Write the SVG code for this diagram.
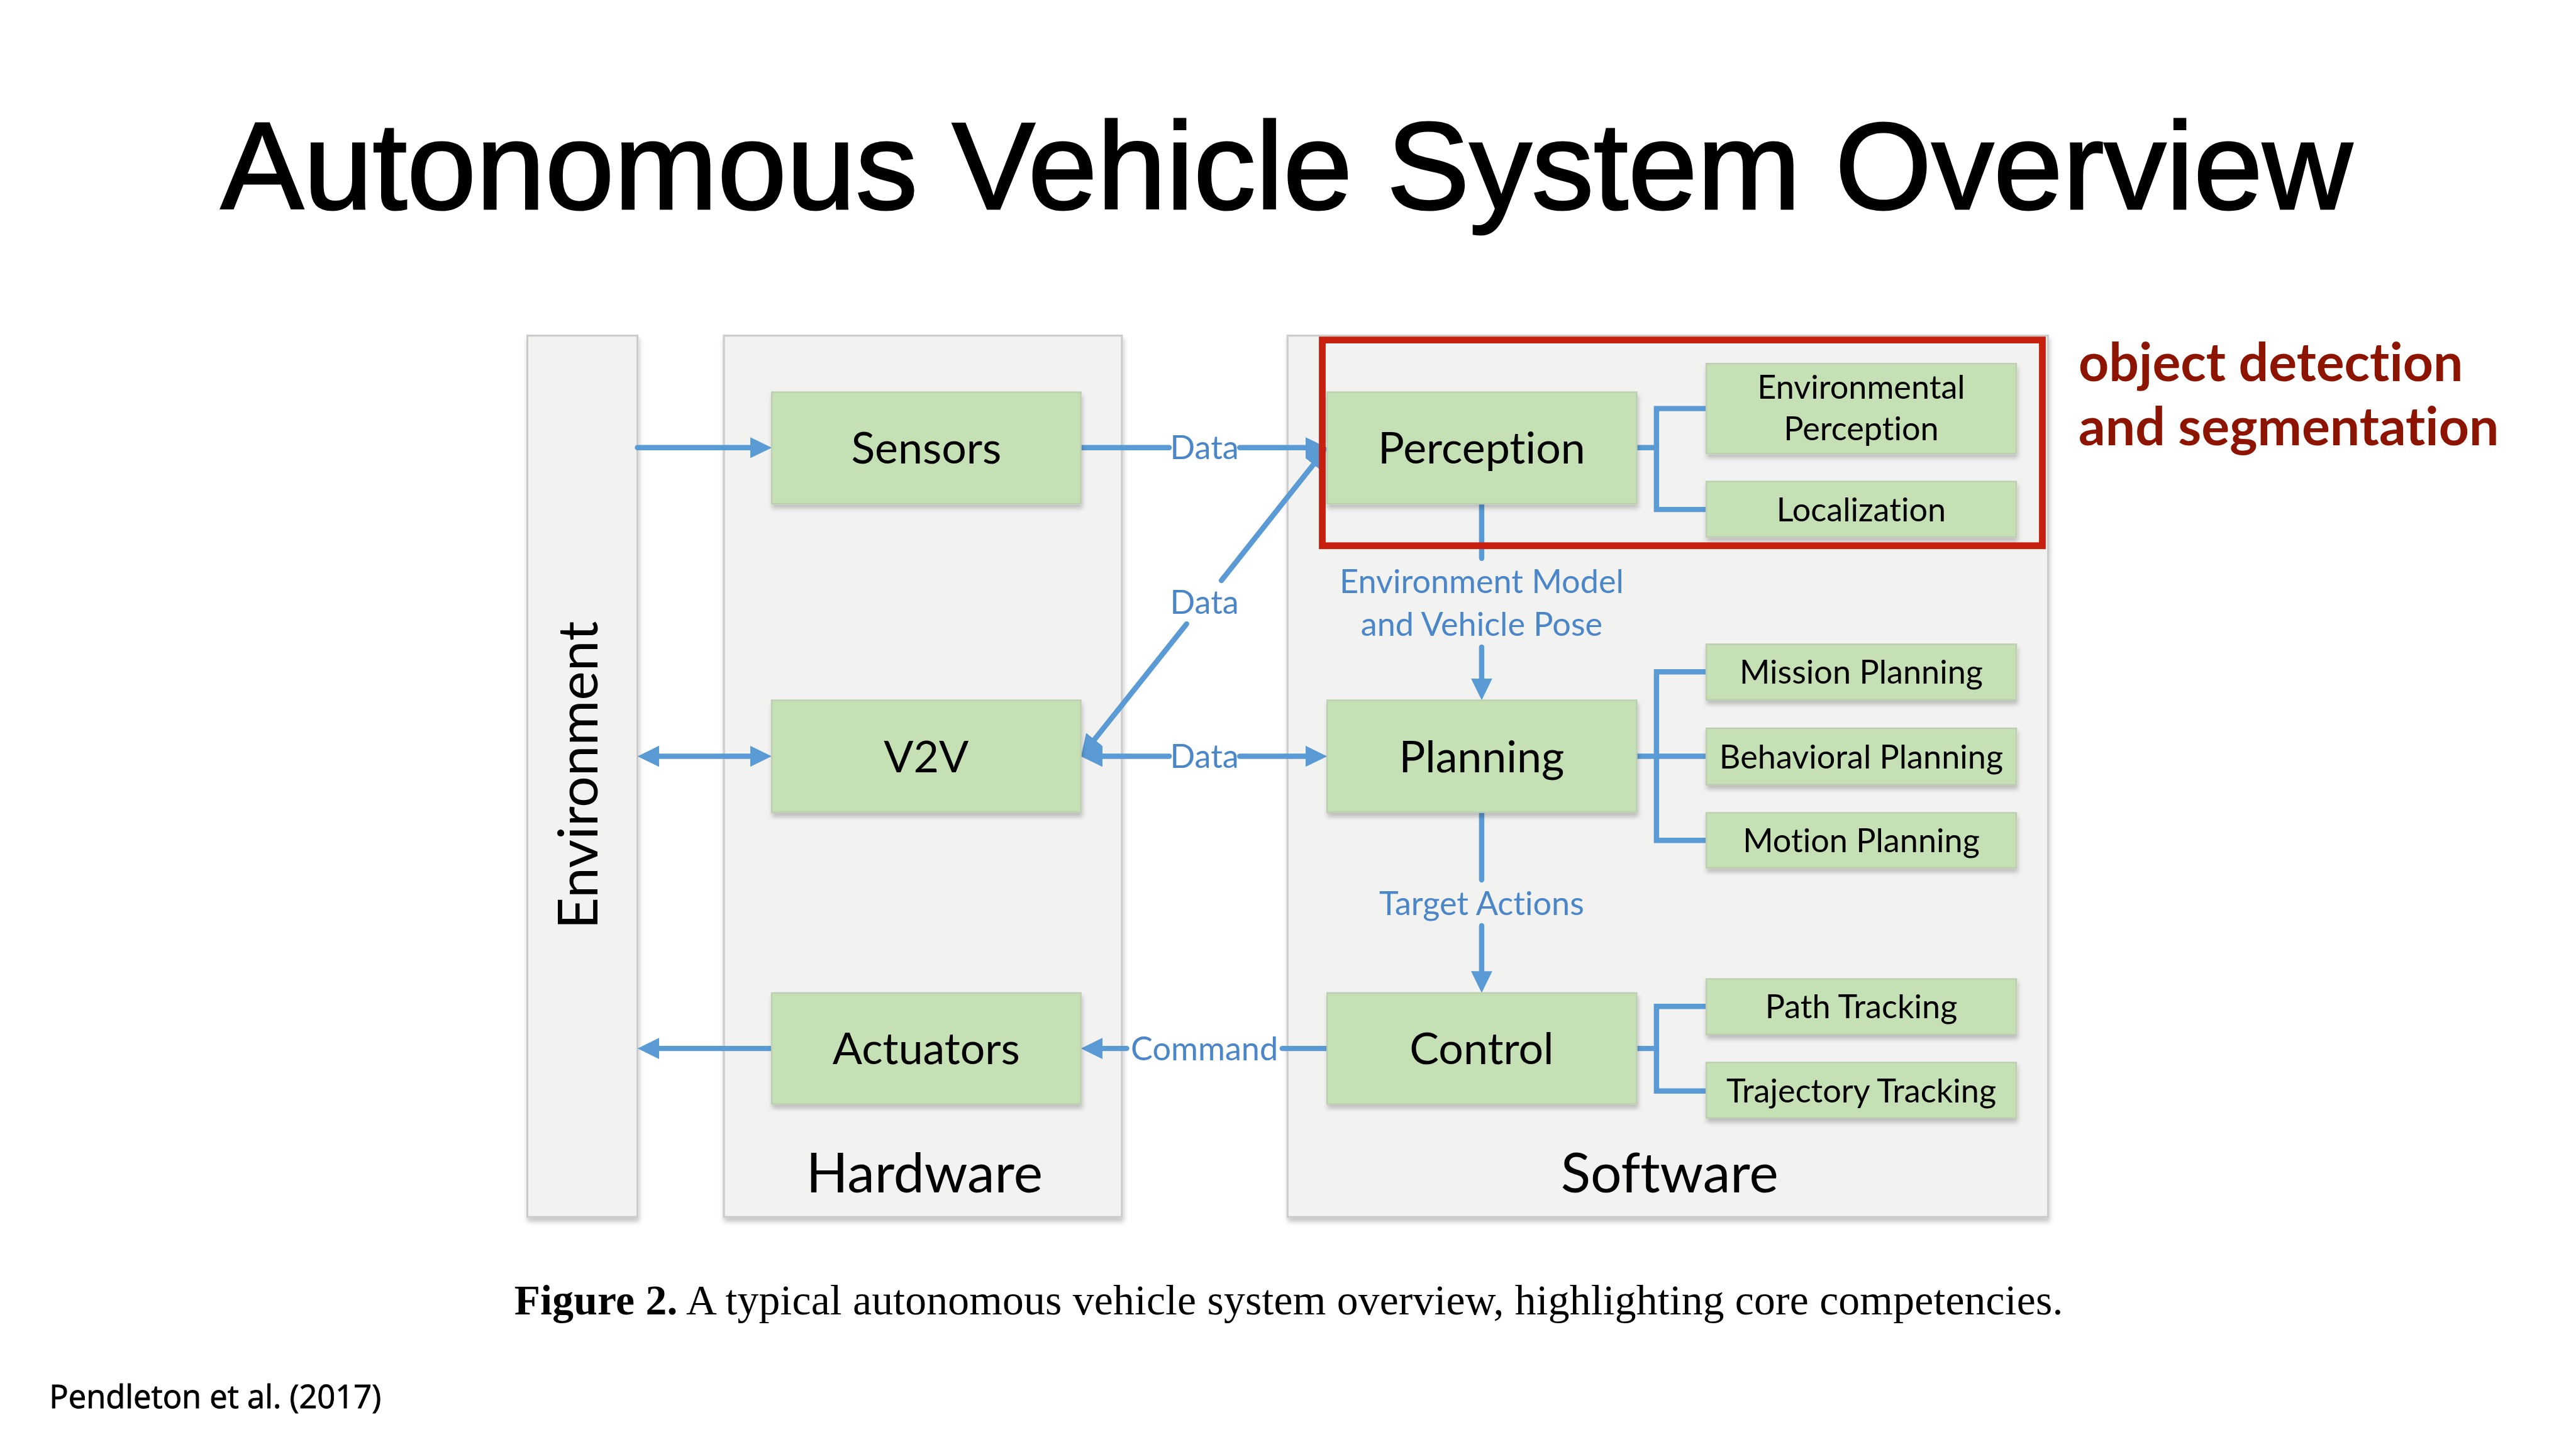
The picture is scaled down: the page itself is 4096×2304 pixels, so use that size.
<svg xmlns="http://www.w3.org/2000/svg" width="4096" height="2304" viewBox="0 0 4096 2304">
<defs>
<filter id="sh" x="-10%" y="-10%" width="120%" height="130%">
<feDropShadow dx="2" dy="8" stdDeviation="5" flood-color="#000" flood-opacity="0.22"/>
</filter>
<marker id="ah" viewBox="0 0 45 44" markerWidth="45" markerHeight="44" markerUnits="userSpaceOnUse" refX="15" refY="22" orient="auto-start-reverse">
<path d="M0,0 L45,22 L0,44 Z" fill="#5b9bd5"/>
</marker>
<style>
text{font-variant-ligatures:none}
.panel{fill:#f2f2f1;stroke:#cbcbcb;stroke-width:4;filter:url(#sh)}
.node{fill:#c5e0b4;stroke:#bccdb1;stroke-width:3;filter:url(#sh)}
.ntxt{font-family:Lato,"Open Sans",sans-serif;font-size:91px;fill:#000;text-anchor:middle}
.stxt{font-family:Lato,"Open Sans",sans-serif;font-size:68px;fill:#000;text-anchor:middle}
.ptxt{font-family:Lato,"Open Sans",sans-serif;font-size:114px;fill:#000;text-anchor:middle}
.ltxt{font-family:Lato,"Open Sans",sans-serif;font-size:68px;fill:#4a86c8;text-anchor:middle}
.con{fill:none;stroke:#5b9bd5;stroke-width:11;stroke-linecap:round;stroke-linejoin:miter}
.arr{marker-end:url(#ah)}
.arr2{marker-start:url(#ah)}
</style>
</defs>
<rect x="0" y="0" width="4096" height="2304" fill="#fff"/>
<g transform="scale(0.767904)">
<text x="2664" y="432" font-family="'Liberation Sans',Arial,sans-serif" font-size="257" text-anchor="middle" fill="#000" stroke="#000" stroke-width="4">Autonomous Vehicle System Overview</text>

<g id="panel-environment">
<rect class="panel" x="1092" y="695" width="228" height="1825"/>
<text class="ptxt" transform="translate(1237,1605) rotate(-90)">Environment</text>
</g>
<g id="panel-hardware">
<rect class="panel" x="1499" y="695" width="824" height="1825"/>
<text class="ptxt" x="1914" y="2469">Hardware</text>
</g>
<g id="panel-software">
<rect class="panel" x="2666" y="695" width="1575" height="1825"/>
<text class="ptxt" x="3457" y="2469">Software</text>
</g>

<g id="connectors">
<path class="con arr" d="M1320,927 H1568"/>
<path class="con" d="M2238,927 H2421"/>
<path class="con arr" d="M2567,927 H2718"/>
<path class="con arr arr2" d="M1350,1566 H1568"/>
<path class="con arr2" d="M2268,1566 H2421"/>
<path class="con arr" d="M2567,1566 H2718"/>
<path class="con arr2" d="M2257,1543 L2457,1292"/>
<path class="con arr" d="M2529,1202 L2729,950"/>
<path class="con arr" d="M1598,2171 H1350"/>
<path class="con" d="M2748,2171 H2655"/>
<path class="con arr" d="M2333,2171 H2268"/>
<path class="con" d="M3068,1043 V1156"/>
<path class="con arr" d="M3068,1340 V1420"/>
<path class="con" d="M3068,1682 V1822"/>
<path class="con arr" d="M3068,1917 V2026"/>
<path class="con" d="M3389,927 H3430"/>
<path class="con" d="M3533,846 H3430 V1055 H3533"/>
<path class="con" d="M3389,1566 H3533"/>
<path class="con" d="M3533,1391 H3430 V1740 H3533"/>
<path class="con" d="M3389,2171 H3430"/>
<path class="con" d="M3533,2084 H3430 V2259 H3533"/>
<text class="ltxt" x="2494" y="951">Data</text>
<text class="ltxt" x="2494" y="1271">Data</text>
<text class="ltxt" x="2494" y="1590">Data</text>
<text class="ltxt" x="2494" y="2195">Command</text>
<text class="ltxt" x="3068" y="1228">Environment Model</text>
<text class="ltxt" x="3068" y="1317">and Vehicle Pose</text>
<text class="ltxt" x="3068" y="1895">Target Actions</text>
</g>

<g id="node-sensors">
<rect class="node" x="1598" y="812" width="640" height="231"/>
<text class="ntxt" x="1918" y="960">Sensors</text>
</g>
<g id="node-v2v">
<rect class="node" x="1598" y="1450" width="640" height="232"/>
<text class="ntxt" x="1918" y="1599">V2V</text>
</g>
<g id="node-actuators">
<rect class="node" x="1598" y="2056" width="640" height="230"/>
<text class="ntxt" x="1918" y="2204">Actuators</text>
</g>
<g id="node-perception">
<rect class="node" x="2748" y="812" width="641" height="231"/>
<text class="ntxt" x="3068" y="960">Perception</text>
</g>
<g id="node-planning">
<rect class="node" x="2748" y="1450" width="641" height="232"/>
<text class="ntxt" x="3068" y="1599">Planning</text>
</g>
<g id="node-control">
<rect class="node" x="2748" y="2056" width="641" height="230"/>
<text class="ntxt" x="3068" y="2204">Control</text>
</g>
<g id="node-env-perception">
<rect class="node" x="3533" y="753" width="642" height="186"/>
<text class="stxt" x="3854" y="826">Environmental</text>
<text class="stxt" x="3854" y="912">Perception</text>
</g>
<g id="node-localization">
<rect class="node" x="3533" y="997" width="642" height="115"/>
<text class="stxt" x="3854" y="1079">Localization</text>
</g>
<g id="node-mission">
<rect class="node" x="3533" y="1334" width="642" height="115"/>
<text class="stxt" x="3854" y="1416">Mission Planning</text>
</g>
<g id="node-behavioral">
<rect class="node" x="3533" y="1508" width="642" height="117"/>
<text class="stxt" x="3854" y="1591">Behavioral Planning</text>
</g>
<g id="node-motion">
<rect class="node" x="3533" y="1683" width="642" height="114"/>
<text class="stxt" x="3854" y="1764">Motion Planning</text>
</g>
<g id="node-path">
<rect class="node" x="3533" y="2027" width="642" height="115"/>
<text class="stxt" x="3854" y="2109">Path Tracking</text>
</g>
<g id="node-trajectory">
<rect class="node" x="3533" y="2200" width="642" height="115"/>
<text class="stxt" x="3854" y="2283">Trajectory Tracking</text>
</g>

<g id="highlight">
<rect x="2738" y="704" width="1491" height="426" fill="none" stroke="#c8200e" stroke-width="14"/>
<text font-family="Lato,'Open Sans',sans-serif" font-weight="bold" font-size="109.5" fill="#8c1400">
<tspan x="4304" y="789">object detection</tspan>
<tspan x="4304" y="922">and segmentation</tspan>
</text>
</g>

<text x="1065" y="2722" font-family="'Liberation Serif','Times New Roman',serif" font-size="88" fill="#000" textLength="3207" lengthAdjust="spacing"><tspan font-weight="bold">Figure 2.</tspan> A typical autonomous vehicle system overview, highlighting core competencies.</text>
<text x="102" y="2916" font-family="'Open Sans',sans-serif" font-size="66" fill="#000" stroke="#000" stroke-width="1.2">Pendleton et al. (2017)</text>
</g>
</svg>
